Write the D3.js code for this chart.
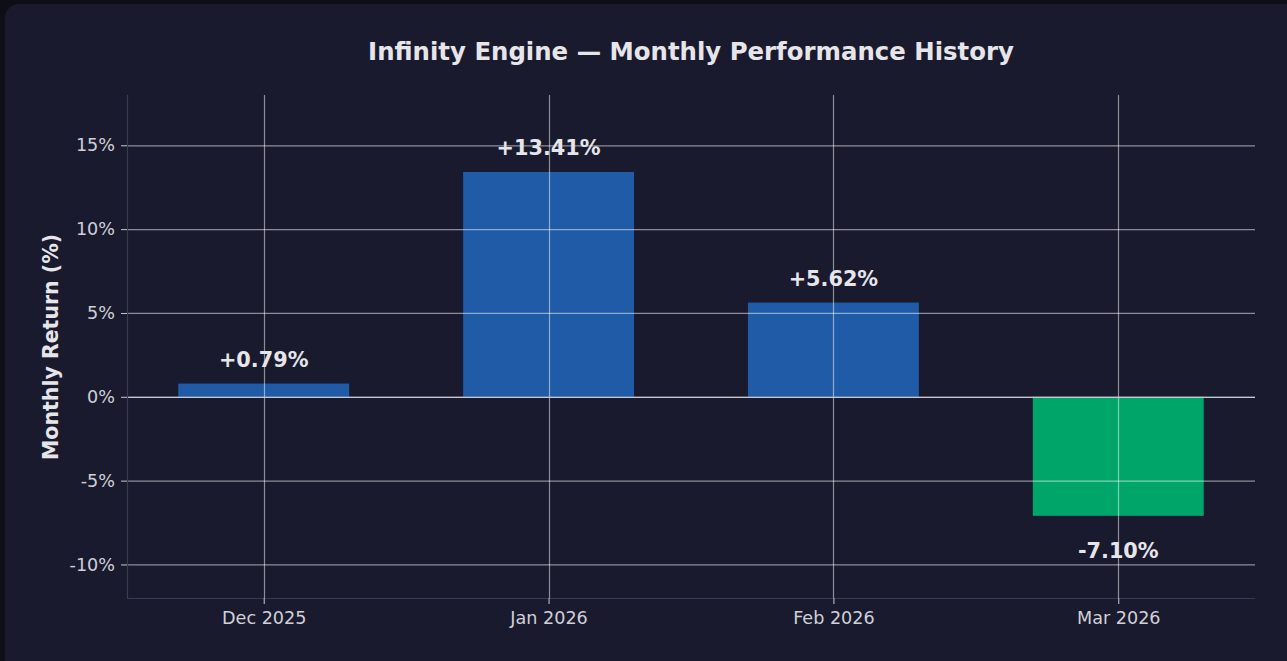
<!DOCTYPE html>
<html>
<head>
<meta charset="utf-8">
<script src="https://cdn.jsdelivr.net/npm/d3@7"></script>
<style>
  html, body { margin: 0; padding: 0; background: #0e0e16; }
  svg { display: block; }
</style>
</head>
<body>
<script>
// Chart size
const w = 1287;
const h = 661;

// Data
const months = ["Dec 2025", "Jan 2026", "Feb 2026", "Mar 2026"];
const returns = [0.79, 13.41, 5.62, -7.10];
const labels = ["+0.79%", "+13.41%", "+5.62%", "-7.10%"];
const yTicks = [-10, -5, 0, 5, 10, 15];

// Plot area
const plotLeft = 127, plotRight = 1255, plotTop = 95, plotBottom = 598;

const svg = d3.select("body").append("svg").attr("width", w).attr("height", h);

// card background
svg.append("rect")
  .attr("x", 5).attr("y", 4)
  .attr("width", w - 5 + 12).attr("height", h - 4 + 12)
  .attr("rx", 14)
  .attr("fill", "#1a1a2e");

const x = d3.scaleLinear().domain([-0.48, 3.48]).range([plotLeft, plotRight]);
const y = d3.scaleLinear().domain([-12, 18]).range([plotBottom, plotTop]);
const barW = x(0.6) - x(0);

// bars
svg.selectAll("rect.bar")
  .data(returns)
  .enter()
  .append("rect")
  .attr("class", "bar")
  .attr("x", (d, i) => x(i) - barW / 2)
  .attr("y", d => y(Math.max(0, d)))
  .attr("width", barW)
  .attr("height", d => Math.abs(y(d) - y(0)))
  .attr("fill", d => d >= 0 ? "#1f5ba7" : "#00a56a");

// grid (drawn over bars, like the original)
const grid = svg.append("g").attr("stroke", "#ffffff").attr("stroke-opacity", 0.5).attr("stroke-width", 1.2);
grid.selectAll("line.h")
  .data(yTicks)
  .enter()
  .append("line")
  .attr("x1", plotLeft).attr("x2", plotRight)
  .attr("y1", d => y(d) + 0.5).attr("y2", d => y(d) + 0.5);
grid.selectAll("line.v")
  .data(months)
  .enter()
  .append("line")
  .attr("y1", plotTop).attr("y2", plotBottom)
  .attr("x1", (d, i) => Math.round(x(i)) + 0.5).attr("x2", (d, i) => Math.round(x(i)) + 0.5);

// zero line
svg.append("line")
  .attr("x1", plotLeft).attr("x2", plotRight)
  .attr("y1", y(0) + 0.5).attr("y2", y(0) + 0.5)
  .attr("stroke", "#c8c8d0").attr("stroke-width", 1.3);

// axes
const yAxis = d3.axisLeft(y).tickValues(yTicks).tickFormat(d => d + "%").tickSize(6).tickPadding(6);
const gy = svg.append("g").attr("transform", `translate(${plotLeft},0)`).call(yAxis);
const xAxis = d3.axisBottom(x).tickValues(d3.range(months.length)).tickFormat(i => months[i]).tickSize(6).tickPadding(8);
const gx = svg.append("g").attr("transform", `translate(0,${plotBottom})`).call(xAxis);

[gy, gx].forEach(g => {
  g.select(".domain").attr("stroke", "#3a3a52").attr("stroke-width", 1.2);
  g.selectAll(".tick line").attr("stroke", "#c8c8d0");
  g.selectAll(".tick text")
    .attr("fill", "#d0d0d8")
    .style("font-family", "'DejaVu Sans', sans-serif")
    .style("font-size", "17.6px");
});
gx.select(".domain").attr("d", `M${plotLeft},0.5H${plotRight}`);
gy.select(".domain").attr("d", `M0.5,${plotTop}V${plotBottom}`);

// value labels
svg.selectAll("text.val")
  .data(returns)
  .enter()
  .append("text")
  .attr("class", "val")
  .text((d, i) => labels[i])
  .attr("x", (d, i) => x(i))
  .attr("y", d => d >= 0 ? y(d) - 17 : y(d) + 42)
  .attr("text-anchor", "middle")
  .attr("fill", "#e6e6ea")
  .style("font-family", "'DejaVu Sans', sans-serif")
  .style("font-weight", "bold")
  .style("font-size", "20.8px");

// title
svg.append("text")
  .text("Infinity Engine \u2014 Monthly Performance History")
  .attr("x", 691).attr("y", 60)
  .attr("text-anchor", "middle")
  .attr("fill", "#e6e6ea")
  .style("font-family", "'DejaVu Sans', sans-serif")
  .style("font-weight", "bold")
  .style("font-size", "24.4px");

// y label
svg.append("text")
  .text("Monthly Return (%)")
  .attr("transform", "translate(58,347) rotate(-90)")
  .attr("text-anchor", "middle")
  .attr("fill", "#e6e6ea")
  .style("font-family", "'DejaVu Sans', sans-serif")
  .style("font-weight", "bold")
  .style("font-size", "20.5px");
</script>
</body>
</html>
